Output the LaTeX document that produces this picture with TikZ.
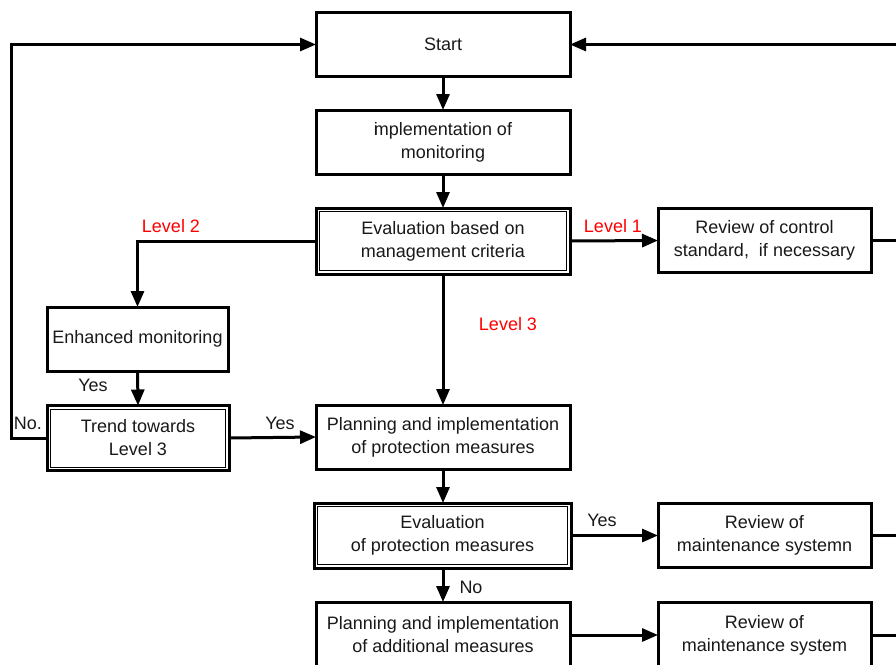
\documentclass[tikz,border=0pt]{standalone}
\usepackage{fontspec}
\setmainfont{Liberation Sans}
\usetikzlibrary{arrows.meta}
\begin{document}
\begin{tikzpicture}[x=1pt,y=-1pt,
  box/.style={draw=black, line width=3pt, fill=white, outer sep=0pt, inner sep=2pt,
    align=center, font=\fontsize{18}{23}\selectfont, text=black!90},
  arr/.style={line width=3pt, -{Triangle[length=16pt,width=13pt]}},
  ln/.style={line width=3pt},
  lbl/.style={font=\fontsize{18}{22}\selectfont, text=black!90, inner sep=0pt},
  rlbl/.style={font=\fontsize{18}{22}\selectfont, text=red, inner sep=0pt}]
\useasboundingbox (0,0) rectangle (896,664);
\clip (0,0) rectangle (896,664);
\fill[white] (0,0) rectangle (896,664);

\node[box, minimum width=254pt, minimum height=64pt] (start) at (443,44.5) {Start};
\node[box, minimum width=254pt, minimum height=64pt] (impl) at (443,142) {\rlap{i}mplementation of\\monitoring};
\node[box, minimum width=254pt, minimum height=66pt] (evalm) at (443,241) {Evaluation based on\\management criteria};
\node[box, minimum width=213pt, minimum height=64pt] (rev1) at (764.5,240.5) {Review of control\\standard,\ \ if necessary};
\node[box, minimum width=181pt, minimum height=64pt] (enh) at (137.5,339) {Enhanced monitoring};
\node[box, minimum width=182pt, minimum height=65pt] (trend) at (138,438) {Trend towards\\Level 3};
\node[box, minimum width=254pt, minimum height=64pt] (planp) at (443,437) {Planning and implementation\\of protection measures};
\node[box, minimum width=257pt, minimum height=65pt] (evalp) at (442.5,535.5) {Evaluation\\of protection measures};
\node[box, minimum width=213pt, minimum height=64pt] (rev2) at (764.5,535.5) {Review of\\maintenance systemn};
\node[box, minimum width=254pt, minimum height=66pt] (plana) at (443,635) {Planning and implementation\\of additional measures};
\node[box, minimum width=213pt, minimum height=66pt] (rev3) at (764.5,635) {Review of\\maintenance system};

\foreach \n in {evalm,trend,evalp}
  \draw[line width=1pt] ([shift={(3.5,3.5)}]\n.north west) rectangle ([shift={(-3.5,-3.5)}]\n.south east);

\coordinate (L) at (11,0);
\coordinate (R) at (897,0);

\draw[arr] (start) -- (impl);
\draw[arr] (impl) -- (evalm);
\draw[arr] (evalm.south) -- (planp.north);
\draw[arr] (evalm.west) -| (enh.north);
\draw[arr] (evalm.east) -- (rev1.west);
\draw[arr] (enh.south) -- (trend.north);
\draw[arr] (trend.east) -- (planp.west);
\draw[arr] (trend.west) -| (L |- start.west) -- (start.west);
\draw[arr] (R |- start.east) -- (start.east);
\draw[arr] (planp.south) -- (evalp.north -| planp.south);
\draw[arr] (evalp.east) -- (rev2.west);
\draw[arr] (evalp.south -| planp.south) -- (plana.north);
\draw[arr] (plana.east) -- (rev3.west);
\draw[ln] (rev1.east) -- (R |- rev1.east);
\draw[ln] (rev2.east) -- (R |- rev2.east);
\draw[ln] (rev3.east) -- (R |- rev3.east);

\node[rlbl] (l2) at (171,226) {Level 2};
\node[rlbl] (l1) at (613,226) {Level 1};
\node[rlbl] (l3) at (508,324) {Level 3};
\node[lbl] (y1) at (93,385) {Yes};
\node[lbl] (no1) at (28,423) {No.};
\node[lbl] (y2) at (280,423) {Yes};
\node[lbl] (y3) at (602,520) {Yes};
\node[lbl] (no2) at (471,587) {No};
\end{tikzpicture}
\end{document}
